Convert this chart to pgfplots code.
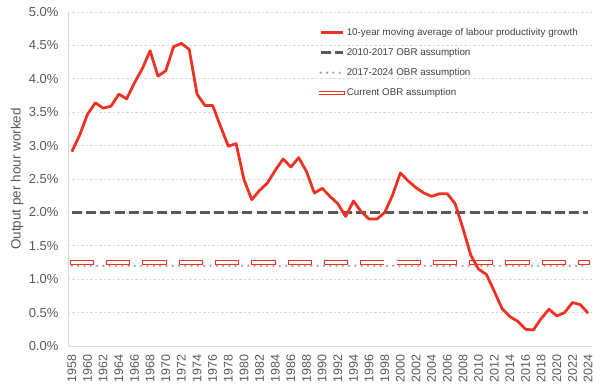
\documentclass[border=0pt]{standalone}
\usepackage{fontspec}
\setmainfont{Liberation Sans}
\usepackage{pgfplots}
\pgfplotsset{compat=1.18}
\definecolor{redl}{RGB}{238,50,36}
\definecolor{dgray}{RGB}{89,89,89}
\definecolor{lgray}{RGB}{166,166,166}
\definecolor{gridc}{RGB}{217,217,217}
\definecolor{txt}{RGB}{89,89,89}
\definecolor{legtxt}{RGB}{64,64,64}
\begin{document}
\begin{tikzpicture}
\begin{axis}[name=ax, scale only axis, width=524pt, height=334pt,
  xmin=1957.5, xmax=2024.5, ymin=0, ymax=5,
  /pgf/number format/assume math mode=true,
  axis lines=left, axis line style={-, draw=gridc, line width=0.8pt},
  xtick={1958,1960,...,2024},
  ytick={0,0.5,1,1.5,2,2.5,3,3.5,4,4.5,5},
  major tick length=0pt,
  x tick label style={yshift=-5pt, rotate=90, anchor=east, font=\fontsize{12.5}{14}\selectfont, text=txt, /pgf/number format/1000 sep={}},
  y tick label style={xshift=-6pt, font=\fontsize{13}{15}\selectfont, text=txt},
  xticklabel={\pgfmathprintnumber[1000 sep={}]{\tick}},
  yticklabel={\pgfmathprintnumber[fixed,fixed zerofill,precision=1]{\tick}\%},
  ymajorgrids, grid style={draw=gridc, dash pattern=on 2.5pt off 2pt, line width=0.6pt},
  ylabel={Output per hour worked},
  ylabel style={at={(axis description cs:-0.097,0.5)}, anchor=center, font=\fontsize{13.5}{15}\selectfont, text=txt},
  legend image code/.code={\draw[#1] (0pt,0pt) -- (22pt,0pt);},
  legend style={at={(rel axis cs:0.977,0.958)}, anchor=north east, draw=none, fill=none,
    font=\fontsize{9.8}{12}\selectfont, text=legtxt, cells={anchor=west}, row sep=7.5pt, inner sep=0pt},
]
\addlegendimage{draw=redl, line width=2.8pt}
\addlegendimage{draw=dgray, line width=3pt, dash pattern=on 10pt off 4.2pt}
\addlegendimage{draw=lgray, line width=2.6pt, line cap=round, dash pattern=on 0pt off 6.3pt}
\addlegendimage{draw=redl, line width=0.9pt, double=white, double distance=2.4pt, line cap=rect}
\legend{10-year moving average of labour productivity growth, 2010-2017 OBR assumption, 2017-2024 OBR assumption, Current OBR assumption}

\addplot[forget plot, draw=lgray, line width=2.6pt, line cap=round, dash pattern=on 0pt off 6.3pt] coordinates {(1958,1.2) (2024,1.2)};
\addplot[forget plot, draw=redl, line width=0.9pt, double=white, double distance=2.4pt, line cap=rect, dash pattern=on 20pt off 16.3pt] coordinates {(1958,1.25) (2024,1.25)};
\addplot[forget plot, draw=dgray, line width=3pt, dash pattern=on 10pt off 4.2pt] coordinates {(1958,2) (2024,2)};
\addplot[forget plot, draw=redl, line width=2.8pt, line join=round] coordinates {
(1958,2.91) (1959,3.16) (1960,3.47) (1961,3.64) (1962,3.56) (1963,3.59) (1964,3.77) (1965,3.70)
(1966,3.94) (1967,4.15) (1968,4.42) (1969,4.04) (1970,4.12) (1971,4.48) (1972,4.53) (1973,4.44)
(1974,3.77) (1975,3.60) (1976,3.60) (1977,3.29) (1978,2.99) (1979,3.03) (1980,2.49) (1981,2.19)
(1982,2.33) (1983,2.44) (1984,2.63) (1985,2.80) (1986,2.68) (1987,2.82) (1988,2.61) (1989,2.29)
(1990,2.36) (1991,2.24) (1992,2.13) (1993,1.94) (1994,2.17) (1995,2.01) (1996,1.90) (1997,1.90)
(1998,2.00) (1999,2.26) (2000,2.59) (2001,2.47) (2002,2.37) (2003,2.29) (2004,2.24) (2005,2.28)
(2006,2.28) (2007,2.13) (2008,1.76) (2009,1.36) (2010,1.15) (2011,1.07) (2012,0.82) (2013,0.56)
(2014,0.44) (2015,0.37) (2016,0.25) (2017,0.24) (2018,0.41) (2019,0.55) (2020,0.45) (2021,0.50)
(2022,0.65) (2023,0.62) (2024,0.49)};
\end{axis}
\pgfresetboundingbox
\path ([xshift=-68pt,yshift=-44pt]ax.south west) rectangle ([xshift=8pt,yshift=12pt]ax.north east);
\end{tikzpicture}
\end{document}
